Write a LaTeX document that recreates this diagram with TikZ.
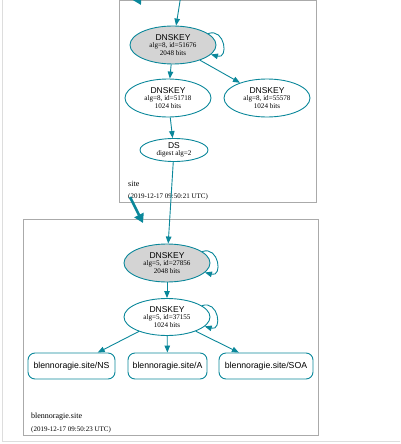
\documentclass[tikz,border=0pt]{standalone}
\usepackage{fontspec}
\setmainfont{Liberation Serif}
\setsansfont{Liberation Sans}
\usetikzlibrary{arrows.meta,shapes.geometric}
\definecolor{sec}{HTML}{0A879A}
\definecolor{clus}{HTML}{AAAAAA}
\definecolor{frame}{HTML}{DDDDDD}
\tikzset{
  keynode/.style={ellipse,draw=sec,line width=0.9pt,inner sep=0pt,minimum width=86pt,minimum height=38pt,align=center,font=\fontsize{7.1}{7.5}\selectfont},
  sepkey/.style={keynode,fill=black!17},
  dsnode/.style={ellipse,draw=sec,line width=0.9pt,inner sep=0pt,minimum width=68pt,minimum height=23pt,align=center,font=\fontsize{7.1}{7.5}\selectfont},
  rrnode/.style={rectangle,rounded corners=7pt,draw=sec,line width=0.9pt,inner sep=0pt,minimum height=26pt,font=\sffamily\fontsize{8.7}{10}\selectfont},
  edge/.style={draw=sec,line width=0.9pt,-{Triangle[length=7pt,width=5.5pt]}},
  thickedge/.style={draw=sec,line width=2.6pt,-{Triangle[length=9pt,width=10pt]}},
  clusterbox/.style={draw=clus,line width=0.8pt},
  lbl/.style={anchor=base west,inner sep=0pt,font=\fontsize{7}{8}\selectfont},
  namelbl/.style={anchor=base west,inner sep=0pt,font=\fontsize{8}{9}\selectfont}
}
\newcommand{\kt}[1]{{\sffamily\fontsize{8.5}{9}\selectfont DNSKEY}\\#1}
\begin{document}
\begin{tikzpicture}[x=1pt,y=-1pt]
\useasboundingbox (0,0) rectangle (400,444);
\clip (0,0) rectangle (400,444);
% outer faint frame
\draw[frame,line width=0.8pt] (2,-2) -- (2,441) -- (402,441);
% clusters
\draw[clusterbox] (119,0.6) rectangle (316,202);
\draw[clusterbox] (23,219) rectangle (318,435);
% site zone
\node[sepkey] (k1) at (173,45) {\kt{alg=8, id=51676\\2048 bits}};
\node[keynode] (k2) at (168,98) {\kt{alg=8, id=51718\\1024 bits}};
\node[keynode] (k3) at (267,98) {\kt{alg=8, id=55578\\1024 bits}};
\node[dsnode] (ds) at (174,150) {{\sffamily\fontsize{8.5}{9}\selectfont DS}\\digest alg=2};
\node[namelbl] (sitename) at (128,186) {site};
\node[lbl] (sitedate) at (128,198) {(2019-12-17 09:50:21 UTC)};
% blennoragie.site zone
\node[sepkey] (k4) at (167,263) {\kt{alg=5, id=27856\\2048 bits}};
\node[keynode,minimum height=37pt] (k5) at (167,317) {\kt{alg=5, id=37155\\1024 bits}};
\node[rrnode,minimum width=87pt] (ns) at (71.5,366) {blennoragie.site/NS};
\node[rrnode,minimum width=79pt] (a) at (167.5,366) {blennoragie.site/A};
\node[rrnode,minimum width=94pt] (soa) at (266,366) {blennoragie.site/SOA};
\node[namelbl] (bname) at (31,418) {blennoragie.site};
\node[lbl] (bdate) at (31,431) {(2019-12-17 09:50:23 UTC)};
% free ends
\coordinate (topin) at (180.5,-2);
\coordinate (tparent) at (133,-10);
\coordinate (tparentend) at (141,5);
\coordinate (zsrc) at (130,197);
\coordinate (zdst) at (143,223);
% edges
\draw[edge] (topin) -- (k1);
\draw[thickedge] (tparent) -- (tparentend);
\draw[edge] (k1) -- (k2);
\draw[edge] (k1) -- (k3);
\draw[edge] (k2) -- (ds);
\draw[edge] (ds) -- (k4);
\draw[edge] (k4) -- (k5);
\draw[edge] (k5) -- (ns);
\draw[edge] (k5) -- (a);
\draw[edge] (k5) -- (soa);
\draw[thickedge] (zsrc) -- (zdst);
% self loops
\draw[edge] (k1.18) .. controls +(17,-6) and +(18,5) .. (k1.-14);
\draw[edge] (k4.18) .. controls +(17,-6) and +(18,5) .. (k4.-14);
\draw[edge] (k5.18) .. controls +(17,-6) and +(18,5) .. (k5.-14);
\end{tikzpicture}
\end{document}
